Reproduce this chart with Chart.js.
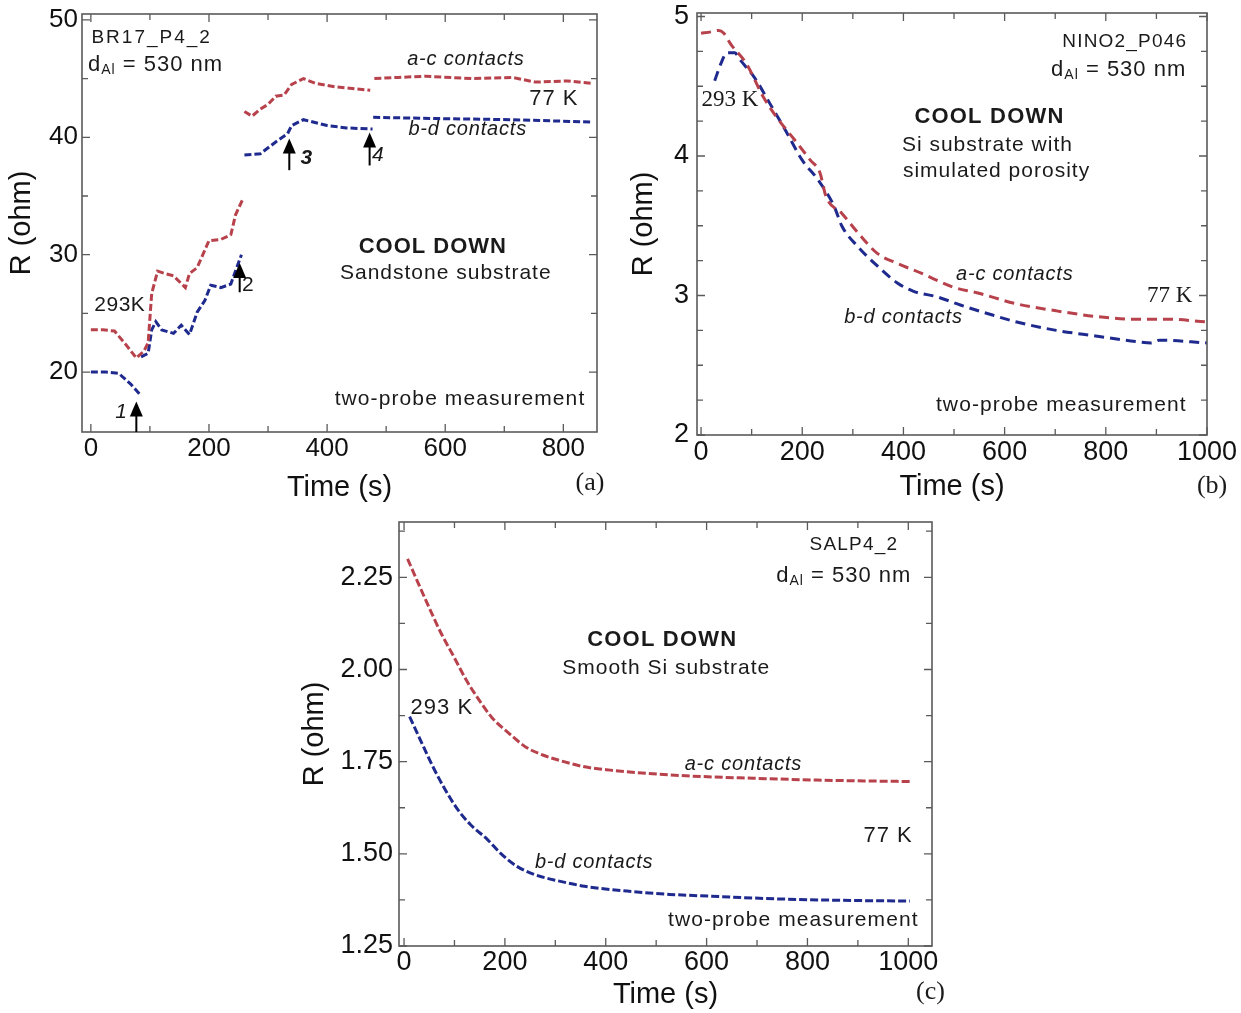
<!DOCTYPE html>
<html>
<head>
<meta charset="utf-8">
<script src="https://cdn.jsdelivr.net/npm/chart.js@4.4.1/dist/chart.umd.min.js"></script>
<style>
  body { margin: 0; background: #fff; width: 1241px; height: 1013px; position: relative; overflow: hidden; }
  canvas { position: absolute; }
</style>
</head>
<body>
<canvas id="chartA" width="620" height="510" style="left:0;top:0"></canvas>
<canvas id="chartB" width="621" height="510" style="left:620px;top:0"></canvas>
<canvas id="chartC" width="660" height="503" style="left:290px;top:510px"></canvas>
<script>
// ---- (a) sandstone substrate, null = break in the record
const timeA_ac = [0, 20, 40, 60, 77, 90, 97, 103, 113, 125, 140, 160, 167, 180, 200, 220, 237, 245, 257, 258,
  260, 273, 287, 300, 313, 327, 340, 360, 380, 413, 433, 473, 476,
  480, 520, 567, 647, 713, 753, 807, 847];
const rA_ac = [23.6, 23.6, 23.5, 22.3, 21.2, 21.8, 22.5, 26.7, 28.6, 28.4, 28.2, 27.2, 28.4, 28.9, 31.2, 31.3, 31.7, 33.4, 34.7, null,
  42.2, 41.8, 42.4, 42.8, 43.5, 43.6, 44.5, 45.0, 44.6, 44.3, 44.2, 44.0, null,
  45.0, 45.1, 45.2, 45.0, 45.1, 44.7, 44.8, 44.6];
const timeA_bd = [0, 25, 47, 67, 83, 84,
  85, 97, 103, 110, 120, 140, 153, 167, 180, 193, 203, 220, 237, 247, 255, 257,
  260, 287, 313, 333, 340, 360, 400, 433, 477, 477.5,
  478, 580, 713, 847];
const rA_bd = [20.0, 20.0, 19.9, 19.0, 18.1, null,
  21.3, 21.6, 23.6, 24.3, 23.6, 23.3, 24.0, 23.2, 25.1, 26.1, 27.4, 27.2, 27.5, 28.9, 30.0, null,
  38.5, 38.6, 39.6, 40.3, 41.0, 41.5, 41.0, 40.8, 40.7, null,
  41.7, 41.6, 41.5, 41.3];

// ---- (b) Si substrate with simulated porosity
const timeB_ac = [0, 20, 35, 45, 59, 90, 122, 153, 184, 216, 235, 247, 278, 310, 349, 388, 435, 498, 545, 624, 702, 780, 859, 922, 1000];
const rB_ac = [4.88, 4.89, 4.90, 4.88, 4.80, 4.66, 4.43, 4.26, 4.12, 3.97, 3.88, 3.71, 3.59, 3.45, 3.30, 3.23, 3.16, 3.06, 3.02, 2.94, 2.89, 2.85, 2.83, 2.83, 2.81];
const timeB_bd = [27, 39, 51, 67, 75, 106, 137, 169, 200, 231, 263, 278, 310, 349, 388, 420, 467, 514, 576, 624, 702, 780, 859, 890, 906, 1000];
const rB_bd = [4.54, 4.66, 4.74, 4.74, 4.70, 4.56, 4.37, 4.17, 3.97, 3.83, 3.64, 3.50, 3.35, 3.21, 3.09, 3.03, 2.99, 2.93, 2.86, 2.81, 2.75, 2.71, 2.67, 2.66, 2.68, 2.66];

// ---- (c) smooth Si substrate
const timeC_ac = [7, 23, 49, 74, 99, 124, 149, 174, 208, 241, 275, 317, 358, 409, 484, 568, 693, 819, 1003];
const rC_ac = [2.30, 2.25, 2.17, 2.097, 2.034, 1.97, 1.917, 1.87, 1.827, 1.79, 1.768, 1.75, 1.736, 1.727, 1.718, 1.711, 1.705, 1.700, 1.696];
const timeC_bd = [11, 32, 57, 82, 107, 132, 166, 191, 224, 258, 308, 358, 442, 526, 610, 735, 861, 1003];
const rC_bd = [1.872, 1.81, 1.737, 1.673, 1.619, 1.579, 1.538, 1.502, 1.466, 1.444, 1.426, 1.412, 1.399, 1.39, 1.385, 1.378, 1.374, 1.372];

// tick values
const xTicksA = [0, 200, 400, 600, 800];
const xMinorA = [100, 300, 500, 700];
const yTicksA = [20, 30, 40, 50];
const yMinorA = [25, 35, 45];
const xTicks = [0, 200, 400, 600, 800, 1000];
const xMinor = [100, 300, 500, 700, 900];
const yTicksB = [2, 3, 4, 5];
const yMinorB = [2.25, 2.5, 2.75, 3.25, 3.5, 3.75, 4.25, 4.5, 4.75];
const yTicksC = [1.25, 1.5, 1.75, 2.0, 2.25];
const yMinorC = [1.375, 1.625, 1.875, 2.125, 2.375];

const RED = '#b8424c';
const BLUE = '#1f2a8e';
const SANS = '"Liberation Sans", Arial, sans-serif';
const SERIF = '"Liberation Serif", "Times New Roman", serif';

// text notes, placed in data coordinates
const notesA = [
  { t: 'BR17_P4_2', x: 1, y: 48.45, align: 'left', font: '19px ' + SANS, sp: 2 },
  { dal: true, x: -5, y: 46.2, align: 'left', size: 22 },
  { t: 'a-c contacts', x: 635, y: 46.6, font: 'italic 20px ' + SANS, sp: 0.8 },
  { t: '77 K', x: 784, y: 43.3, font: '22px ' + SANS, sp: 1 },
  { t: 'b-d contacts', x: 638, y: 40.7, font: 'italic 20px ' + SANS, sp: 0.8 },
  { t: '3', x: 355, y: 38.2, align: 'left', font: 'italic bold 21px ' + SANS },
  { t: '4', x: 476, y: 38.5, align: 'left', font: 'italic 21px ' + SANS },
  { t: '2', x: 256, y: 27.4, align: 'left', font: '21px ' + SANS },
  { t: '1', x: 61, y: 16.6, align: 'right', font: 'italic 21px ' + SANS },
  { t: '293K', x: 49, y: 25.7, font: '21px ' + SANS, sp: 0.5 },
  { t: 'COOL DOWN', x: 579, y: 30.7, font: 'bold 22px ' + SANS, sp: 1 },
  { t: 'Sandstone substrate', x: 601, y: 28.4, font: '21px ' + SANS, sp: 1 },
  { t: 'two-probe measurement', x: 625, y: 17.7, font: '21px ' + SANS, sp: 1.1 },
  { t: '(a)', x: 845, y: 10.5, font: '26px ' + SERIF }
];
const arrowsA = [
  { x: 77, from: 14.9, to: 17.5 },
  { x: 252, from: 26.8, to: 29.3 },
  { x: 336, from: 37.2, to: 39.9 },
  { x: 472, from: 37.6, to: 40.4 }
];
const notesB = [
  { t: 'NINO2_P046', x: 961, y: 4.82, align: 'right', font: '19px ' + SANS, sp: 1.2 },
  { dal: true, x: 959, y: 4.62, align: 'right', size: 22 },
  { t: 'COOL DOWN', x: 570, y: 4.28, font: 'bold 22px ' + SANS, sp: 1.2 },
  { t: 'Si substrate with', x: 566, y: 4.08, font: '21px ' + SANS, sp: 1 },
  { t: 'simulated porosity', x: 584, y: 3.89, font: '21px ' + SANS, sp: 1 },
  { t: '293 K', x: 57, y: 4.40, font: '23px ' + SERIF },
  { t: 'a-c contacts', x: 620, y: 3.15, font: 'italic 20px ' + SANS, sp: 0.8 },
  { t: '77 K', x: 926, y: 3.00, font: '23px ' + SERIF },
  { t: 'b-d contacts', x: 400, y: 2.84, font: 'italic 20px ' + SANS, sp: 0.8 },
  { t: 'two-probe measurement', x: 712, y: 2.215, font: '21px ' + SANS, sp: 1.1 },
  { t: '(b)', x: 1010, y: 1.634, font: '26px ' + SERIF }
];
const notesC = [
  { t: 'SALP4_2', x: 980, y: 2.339, align: 'right', font: '19px ' + SANS, sp: 1.2 },
  { dal: true, x: 1006, y: 2.255, align: 'right', size: 22 },
  { t: 'COOL DOWN', x: 512, y: 2.079, font: 'bold 22px ' + SANS, sp: 1.2 },
  { t: 'Smooth Si substrate', x: 520, y: 2.003, font: '21px ' + SANS, sp: 1 },
  { t: '293 K', x: 75, y: 1.895, font: '22px ' + SANS, sp: 1 },
  { t: 'a-c contacts', x: 673, y: 1.743, font: 'italic 20px ' + SANS, sp: 0.8 },
  { t: '77 K', x: 960, y: 1.548, font: '22px ' + SANS, sp: 1 },
  { t: 'b-d contacts', x: 377, y: 1.477, font: 'italic 20px ' + SANS, sp: 0.8 },
  { t: 'two-probe measurement', x: 772, y: 1.32, font: '21px ' + SANS, sp: 1.1 },
  { t: '(c)', x: 1044, y: 1.125, font: '26px ' + SERIF }
];

function pts(xs, ys) {
  return xs.map((x, i) => ({ x: x, y: ys[i] }));
}

function setSpacing(ctx, sp) {
  if ('letterSpacing' in ctx) ctx.letterSpacing = (sp || 0) + 'px';
}

function drawDAl(ctx, x, y, align, size) {
  const big = size + 'px ' + SANS;
  const small = Math.round(size * 0.62) + 'px ' + SANS;
  setSpacing(ctx, 1);
  ctx.font = big;
  const w1 = ctx.measureText('d').width;
  const w3 = ctx.measureText(' = 530 nm').width;
  ctx.font = small;
  const w2 = ctx.measureText('Al').width;
  let left = align === 'right' ? x - (w1 + w2 + w3) : x;
  ctx.textAlign = 'left';
  ctx.font = big;
  ctx.fillText('d', left, y);
  ctx.font = small;
  ctx.fillText('Al', left + w1, y + size * 0.25);
  ctx.font = big;
  ctx.fillText(' = 530 nm', left + w1 + w2, y);
}

const framePlugin = {
  id: 'frame',
  afterDraw(chart, args, opts) {
    const { ctx, chartArea: a } = chart;
    const xs = chart.scales.x, ys = chart.scales.y;
    ctx.save();
    ctx.strokeStyle = '#5a5a5a';
    ctx.lineWidth = 1.6;
    ctx.strokeRect(a.left, a.top, a.right - a.left, a.bottom - a.top);
    ctx.lineWidth = 1.3;
    ctx.beginPath();
    const xt = (vals, len) => vals.forEach(v => {
      const p = xs.getPixelForValue(v);
      ctx.moveTo(p, a.bottom); ctx.lineTo(p, a.bottom - len);
      ctx.moveTo(p, a.top); ctx.lineTo(p, a.top + len);
    });
    const yt = (vals, len) => vals.forEach(v => {
      const p = ys.getPixelForValue(v);
      ctx.moveTo(a.left, p); ctx.lineTo(a.left + len, p);
      ctx.moveTo(a.right, p); ctx.lineTo(a.right - len, p);
    });
    xt(opts.xMajor, 8); xt(opts.xMinor, 6);
    yt(opts.yMajor, 8); yt(opts.yMinor, 6);
    ctx.stroke();

    // arrows
    (opts.arrows || []).forEach(ar => {
      const px = xs.getPixelForValue(ar.x);
      const p0 = ys.getPixelForValue(ar.from);
      const p1 = ys.getPixelForValue(ar.to);
      ctx.strokeStyle = '#000';
      ctx.fillStyle = '#000';
      ctx.lineWidth = 2;
      ctx.beginPath();
      ctx.moveTo(px, p0); ctx.lineTo(px, p1 + 10);
      ctx.stroke();
      ctx.beginPath();
      ctx.moveTo(px, p1); ctx.lineTo(px - 6.5, p1 + 15); ctx.lineTo(px + 6.5, p1 + 15);
      ctx.closePath();
      ctx.fill();
    });

    // notes
    ctx.fillStyle = '#1a1a1a';
    ctx.textBaseline = 'middle';
    (opts.notes || []).forEach(n => {
      const px = xs.getPixelForValue(n.x);
      const py = ys.getPixelForValue(n.y);
      if (n.dal) { drawDAl(ctx, px, py, n.align, n.size); return; }
      setSpacing(ctx, n.sp);
      ctx.font = n.font;
      ctx.textAlign = n.align || 'center';
      ctx.fillText(n.t, px, py);
    });
    ctx.restore();
  }
};

function makeChart(id, cfg) {
  const line = (data, color, dash) => ({
    data: data,
    borderColor: color,
    borderWidth: 3,
    borderDash: dash,
    pointRadius: 0,
    tension: cfg.tension,
    cubicInterpolationMode: cfg.tension ? 'monotone' : 'default',
    spanGaps: false,
    showLine: true
  });
  return new Chart(document.getElementById(id), {
    type: 'scatter',
    data: {
      datasets: [
        line(cfg.red, RED, cfg.dash),
        line(cfg.blue, BLUE, cfg.dash)
      ]
    },
    options: {
      responsive: false,
      animation: false,
      events: [],
      layout: { padding: { top: cfg.top, right: cfg.right, left: 0, bottom: 0 } },
      plugins: {
        legend: { display: false },
        tooltip: { enabled: false },
        frame: {
          xMajor: cfg.xMajor, xMinor: cfg.xMinor,
          yMajor: cfg.yMajor, yMinor: cfg.yMinor,
          notes: cfg.notes, arrows: cfg.arrows
        }
      },
      scales: {
        x: {
          type: 'linear',
          min: cfg.xMin, max: cfg.xMax,
          grid: { display: false, drawTicks: false },
          border: { display: false },
          afterBuildTicks: s => { s.ticks = cfg.xMajor.map(v => ({ value: v })); },
          afterFit: s => { s.height = cfg.xH; s.paddingLeft = 0; s.paddingRight = 0; },
          ticks: {
            padding: cfg.xPad,
            color: '#111',
            maxRotation: 0,
            autoSkip: false,
            font: { family: SANS, size: cfg.tickSize },
            callback: v => String(v)
          },
          title: {
            display: true, text: 'Time (s)', color: '#111',
            font: { family: SANS, size: 29 },
            padding: { top: 0, bottom: cfg.xTitlePad }
          }
        },
        y: {
          type: 'linear',
          min: cfg.yMin, max: cfg.yMax,
          grid: { display: false, drawTicks: false },
          border: { display: false },
          afterBuildTicks: s => { s.ticks = cfg.yMajor.map(v => ({ value: v })); },
          afterFit: s => { s.width = cfg.yW; s.paddingTop = 0; s.paddingBottom = 0; },
          ticks: {
            padding: cfg.yPad,
            color: '#111',
            autoSkip: false,
            font: { family: SANS, size: cfg.tickSize },
            callback: cfg.yFmt
          },
          title: {
            display: true, text: 'R (ohm)', color: '#111',
            font: { family: SANS, size: 29 },
            padding: { top: cfg.yTitlePad, bottom: 0 }
          }
        }
      }
    },
    plugins: [framePlugin]
  });
}

makeChart('chartA', {
  red: pts(timeA_ac, rA_ac), blue: pts(timeA_bd, rA_bd), dash: [7, 3], tension: 0,
  xMin: -15, xMax: 857, yMin: 14.9, yMax: 50.5,
  xMajor: xTicksA, xMinor: xMinorA, yMajor: yTicksA, yMinor: yMinorA,
  top: 14, right: 23, yW: 82, xH: 78, xPad: 1, yPad: 4, tickSize: 26,
  xTitlePad: 5, yTitlePad: 5,
  yFmt: v => String(v),
  notes: notesA, arrows: arrowsA
});

makeChart('chartB', {
  red: pts(timeB_ac, rB_ac), blue: pts(timeB_bd, rB_bd), dash: [10, 6], tension: 0.3,
  xMin: -8, xMax: 1000, yMin: 2, yMax: 5.025,
  xMajor: xTicks, xMinor: xMinor, yMajor: yTicksB, yMinor: yMinorB,
  top: 13, right: 34, yW: 77, xH: 75, xPad: 1, yPad: 8, tickSize: 27,
  xTitlePad: 6, yTitlePad: 7,
  yFmt: v => String(v),
  notes: notesB
});

makeChart('chartC', {
  red: pts(timeC_ac, rC_ac), blue: pts(timeC_bd, rC_bd), dash: [8, 3], tension: 0.3,
  xMin: -10, xMax: 1047, yMin: 1.25, yMax: 2.4,
  xMajor: xTicks, xMinor: xMinor, yMajor: yTicksC, yMinor: yMinorC,
  top: 12, right: 18, yW: 109, xH: 67, xPad: 0, yPad: 6, tickSize: 27,
  xTitlePad: 1, yTitlePad: 8,
  yFmt: v => v.toFixed(2),
  notes: notesC
});
</script>
</body>
</html>
